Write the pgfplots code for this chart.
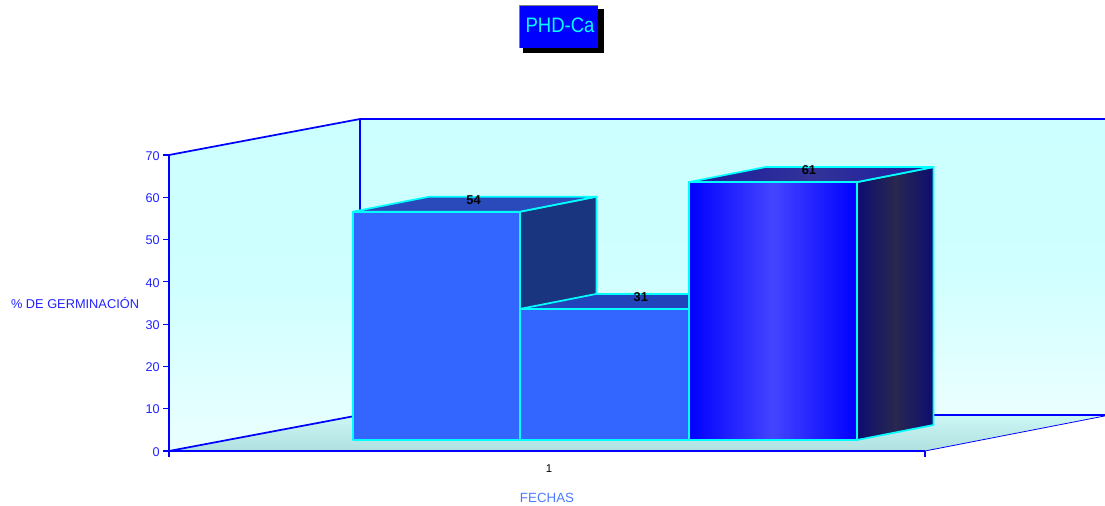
\documentclass[border=0pt]{standalone}
\usepackage{fontspec}
\setmainfont{Liberation Sans}
\usepackage{pgfplots}
\pgfplotsset{compat=1.18}

\definecolor{axblue}{HTML}{0000FF}
\definecolor{edgecyan}{HTML}{00FFFF}
\definecolor{ticktext}{HTML}{2222FF}
\definecolor{xname}{HTML}{4D79FF}
\definecolor{wallT}{HTML}{CCFFFF}
\definecolor{wallM}{HTML}{CFFFFF}
\definecolor{wallB}{HTML}{EBFFFF}
\definecolor{floorT}{HTML}{CCF7F5}
\definecolor{floorB}{HTML}{B0E0E0}
\definecolor{plainFront}{HTML}{3366FF}
\definecolor{plainTopA}{HTML}{2A4ABB}
\definecolor{plainTopB}{HTML}{2244BB}
\definecolor{plainSide}{HTML}{1A3580}
\definecolor{vivEdge}{HTML}{0000FF}
\definecolor{vivMid}{HTML}{4444FF}
\definecolor{sideEdge}{HTML}{0D0D70}
\definecolor{sideMid}{HTML}{282850}
\definecolor{topEdge}{HTML}{1A1AA0}
\definecolor{topMid}{HTML}{333399}

% Depth of the oblique projection, in axis units
\newcommand{\ddx}{0.1012}
\newcommand{\ddy}{3.55}
% Raised floor line of the bars, in axis units
\newcommand{\bs}{2.6}

% One prism: x0, x1, value, front style, side style, top style
\newcommand{\prism}[6]{%
  \pgfmathsetmacro{\yt}{\bs+#3}%
  \pgfmathsetmacro{\ytb}{\yt+\ddy}%
  \pgfmathsetmacro{\ybb}{\bs+\ddy}%
  \pgfmathsetmacro{\xab}{#1+\ddx}%
  \pgfmathsetmacro{\xbb}{#2+\ddx}%
  \addplot[draw=edgecyan,line width=1.3pt,line join=round,#5] coordinates {(#2,\bs) (\xbb,\ybb) (\xbb,\ytb) (#2,\yt)} -- cycle;
  \addplot[draw=edgecyan,line width=1.3pt,line join=round,#4] coordinates {(#1,\bs) (#2,\bs) (#2,\yt) (#1,\yt)} -- cycle;
  \addplot[draw=edgecyan,line width=1.3pt,line join=round,#6] coordinates {(#1,\yt) (#2,\yt) (\xbb,\ytb) (\xab,\ytb)} -- cycle;
}

\begin{document}
\begin{tikzpicture}[x=0.75pt,y=0.75pt]
\useasboundingbox (0,0) rectangle (1105,506);
\clip (0,0) rectangle (1105,506);

\begin{axis}[
  at={(126.75pt,41.25pt)}, anchor=south west,
  scale only axis, width=567pt, height=222pt,
  xmin=0, xmax=1, ymin=0, ymax=70,
  clip=false, axis on top,
  axis lines*=left,
  axis line style={axblue,line width=1.1pt,-},
  xtick={0,1}, xticklabels={}, 
  extra x ticks={0.5}, extra x tick labels={1},
  extra x tick style={major tick length=0pt,
    xticklabel style={black,font=\fontsize{8.5}{9}\selectfont,yshift=-6.8pt,xshift=1.5pt}},
  ytick={0,10,...,70},
  tick style={axblue,line width=0.8pt},
  tick align=outside, major tick length=4.5pt,
  yticklabel style={ticktext,font=\fontsize{9.5}{11}\selectfont,xshift=1pt,yshift=-0.6pt},
  /pgf/number format/assume math mode=true,
  xlabel={FECHAS}, ylabel={\% DE GERMINACIÓN},
  every axis x label/.style={at={(rel axis cs:0.5,-0.1588)},anchor=center,
    xname,font=\fontsize{10}{11}\selectfont},
  every axis y label/.style={at={(rel axis cs:-0.1243,0.5)},anchor=center,rotate=0,
    ticktext,font=\fontsize{9.6}{11}\selectfont},
]
% Walls and floor of the box
\addplot[draw=none,top color=wallT,bottom color=wallB,middle color=wallM]
  coordinates {(0,0) (0.2526,8.51) (0.2526,78.51) (0,70)} -- cycle;
\addplot[draw=none,top color=wallT,bottom color=wallB,middle color=wallM]
  coordinates {(0.2526,8.51) (1.2381,8.51) (1.2381,78.51) (0.2526,78.51)} -- cycle;
\addplot[draw=none,top color=floorT,bottom color=floorB]
  coordinates {(0,0) (1,0) (1.2381,8.4) (1.2381,8.51) (0.2526,8.51)} -- cycle;
% Box edges
\addplot[axblue,line width=1.3pt] coordinates {(0,0) (0.2526,8.51) (1.2381,8.51)};
\addplot[axblue,line width=1.3pt] coordinates {(0,70) (0.2526,78.51) (1.2381,78.51)};
\addplot[axblue,line width=1.3pt] coordinates {(0.2526,8.51) (0.2526,78.51)};
\addplot[axblue,line width=0.6pt] coordinates {(1,0) (1.2381,8.3)};

% Bars
\prism{0.2434}{0.4643}{54}{fill=plainFront}{fill=plainSide}{fill=plainTopA}
\prism{0.4643}{0.6878}{31}{fill=plainFront}{fill=plainSide}{fill=plainTopB}
\prism{0.6878}{0.9101}{61}
  {left color=vivEdge,right color=vivEdge,middle color=vivMid}
  {left color=sideEdge,right color=sideEdge,middle color=sideMid}
  {left color=topEdge,right color=topEdge,middle color=topMid}

% Value labels over the bars
\addplot[draw=none,
  nodes near coords,
  point meta=explicit symbolic,
  every node near coord/.style={anchor=center,black,
    font=\fontsize{9.6}{10}\selectfont\bfseries}]
  coordinates {(0.4029,59.35)[54] (0.6240,36.35)[31] (0.8465,66.35)[61]};
\end{axis}

% Title plate
\fill[black] (523,453) rectangle (604,497);
\fill[axblue] (519.5,458) rectangle (598,501);
\draw[gray,line width=0.5pt] (519.5,458) -- (519.5,501) -- (598,501);
\node[text=edgecyan,font=\fontsize{15.7}{18}\selectfont] at (560,480.5)
  {\scalebox{0.885}[1]{PHD-Ca}};
\end{tikzpicture}
\end{document}
